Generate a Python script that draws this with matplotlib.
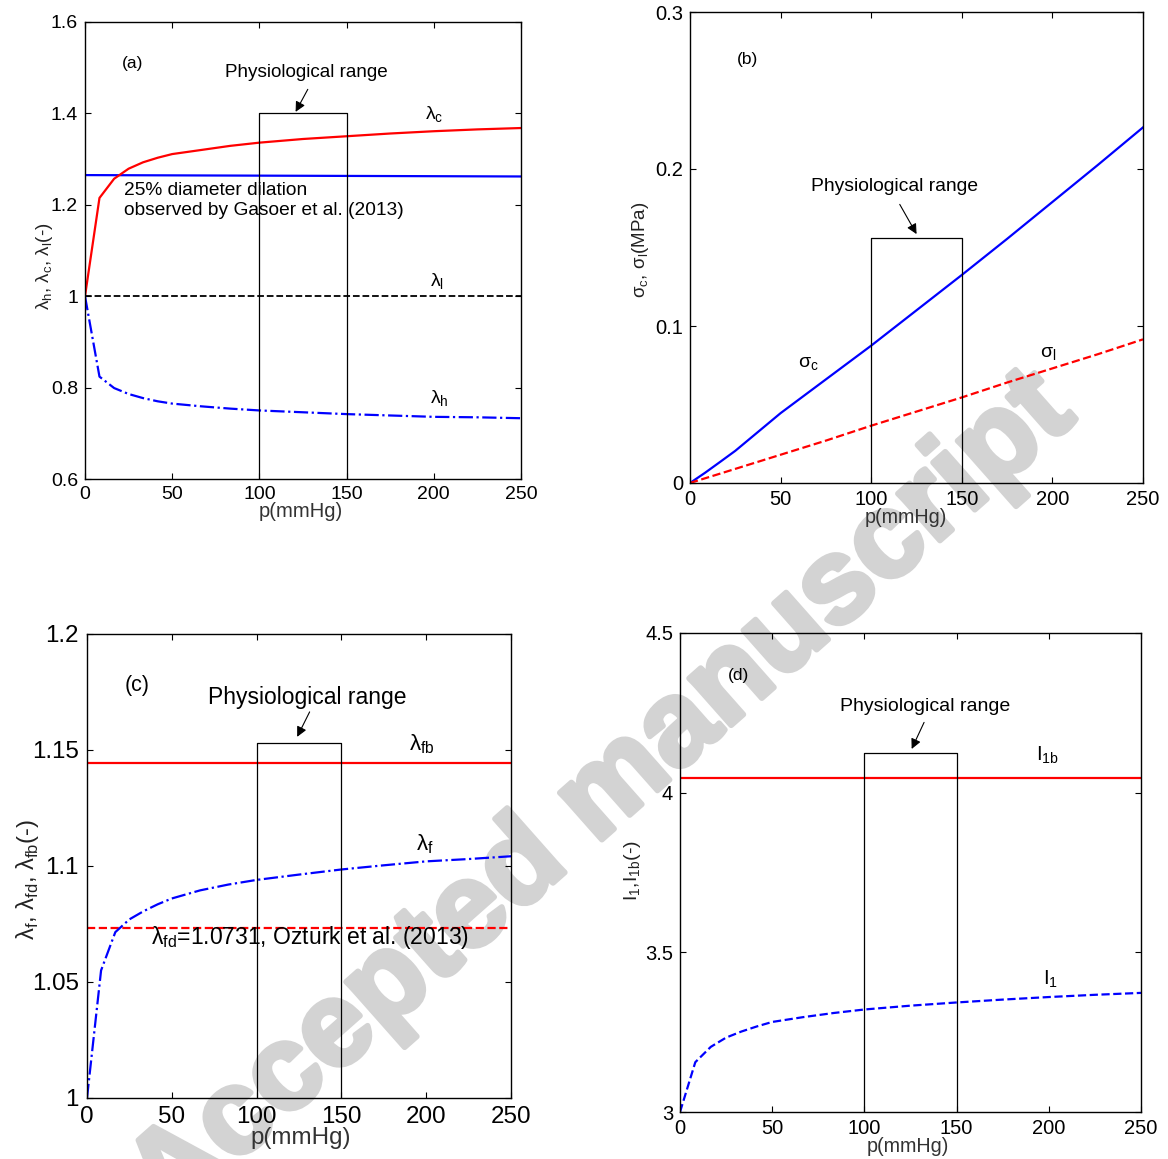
### 1. MODULE IMPORTS
import matplotlib
matplotlib.use('Agg')
from matplotlib import pyplot as plt
from matplotlib import patheffects

plt.rcParams['font.family'] = ['Liberation Sans', 'DejaVu Sans']

### 2. DATA
# pressure samples (mmHg)
p = [0, 8.3, 16.7, 25, 33.3, 41.7, 50, 66.7, 83.3, 100, 125, 150, 175, 200, 225, 250]
p_ends = [0, 250]

# (a) stretches
lam_c = [1.0, 1.215, 1.257, 1.279, 1.293, 1.303, 1.311, 1.320, 1.329, 1.336, 1.344, 1.350, 1.356, 1.361, 1.365, 1.368]
lam_h = [1.0, 0.824, 0.799, 0.786, 0.777, 0.770, 0.765, 0.759, 0.754, 0.750, 0.746, 0.742, 0.739, 0.736, 0.735, 0.733]
lam_l = 1.0
dilation = [1.265, 1.262]

# (b) stresses (MPa)
p_b = [0, 8.3, 16.7, 25, 50, 75, 100, 125, 150, 175, 200, 225, 250]
sig_c = [0, 0.0065, 0.0135, 0.0205, 0.0445, 0.066, 0.0875, 0.110, 0.1325, 0.1555, 0.179, 0.2025, 0.2265]
sig_l = [0, 0.003, 0.006, 0.009, 0.018, 0.027, 0.0365, 0.0455, 0.0545, 0.064, 0.073, 0.082, 0.0915]

# (c) fibre stretches
lam_f = [1.0, 1.055, 1.0715, 1.077, 1.0805, 1.0835, 1.086, 1.0895, 1.092, 1.094, 1.0963, 1.0985, 1.1003, 1.102, 1.103, 1.1042]
lam_fb = 1.1445
lam_fd = 1.0731

# (d) invariants
I_1 = [3.0, 3.156, 3.204, 3.233, 3.252, 3.268, 3.282, 3.297, 3.310, 3.321, 3.333, 3.343, 3.352, 3.360, 3.367, 3.373]
I_1b = 4.045

# physiological range box
phys_range = [100, 150]
box_top = {'a': 1.4, 'b': 0.156, 'c': 1.153, 'd': 4.124}

### 3. FIGURE
W, H = 1168, 1159
fig = plt.figure(figsize=(W / 100, H / 100), dpi=100)

def add_axes(x0, x1, y_top, y_bot):
    ax = fig.add_axes([x0 / W, 1 - y_bot / H, (x1 - x0) / W, (y_bot - y_top) / H])
    ax.patch.set_alpha(0)
    for s in ax.spines.values():
        s.set_linewidth(1.0)
    return ax

def style(ax, yticks, ylabels, ylim, size, ypad):
    ax.set_xlim(0, 250)
    ax.set_ylim(*ylim)
    ax.set_xticks([0, 50, 100, 150, 200, 250])
    ax.set_yticks(yticks)
    ax.set_yticklabels(ylabels)
    ax.tick_params(direction='in', length=4, width=0.8, top=True, right=True,
                   labelsize=size, pad=ypad)

def phys_box(ax, top, bottom):
    x0, x1 = phys_range
    ax.plot([x0, x0, x1, x1], [bottom, top, top, bottom], color='k', lw=0.9)

def arrow(ax, text, xy, xytext, text_xy, size):
    ax.annotate('', xy=xy, xytext=xytext,
                arrowprops=dict(arrowstyle='-|>', color='k', lw=0.8, mutation_scale=15))
    ax.text(*text_xy, text, ha='center', va='center', fontsize=size)

def axis_labels(ax, ytext, ypos, ysize, xpos, xsize):
    ax.text(*ypos, ytext, rotation=90, ha='center', va='center', fontsize=ysize,
            color='#222222', transform=ax.transAxes)
    ax.text(*xpos, 'p(mmHg)', ha='center', va='center', fontsize=xsize,
            color='#333333', transform=ax.transAxes)

# (a)
ax = add_axes(85, 521, 22, 479)
ax.plot(p_ends, dilation, color='#0000ff', lw=1.6)
ax.plot(p, lam_c, color='#ff0000', lw=1.6)
ax.plot(p_ends, [lam_l, lam_l], color='k', ls='--', lw=1.3)
ax.plot(p, lam_h, color='#0000ff', ls='-.', lw=1.6)
phys_box(ax, box_top['a'], 0.6)
style(ax, [0.6, 0.8, 1, 1.2, 1.4, 1.6], ['0.6', '0.8', '1', '1.2', '1.4', '1.6'], (0.6, 1.6), 14, 5)
arrow(ax, 'Physiological range', (120, 1.398), (128.5, 1.458), (127, 1.49), 13.6)
ax.text(21, 1.51, '(a)', ha='left', va='center', fontsize=12.5)
ax.text(195, 1.386, r'λ$_\mathregular{c}$', fontsize=14)
ax.text(198, 1.021, r'λ$_\mathregular{l}$', fontsize=14)
ax.text(198, 0.765, r'λ$_\mathregular{h}$', fontsize=14)
ax.text(22.5, 1.21, '25% diameter dilation\nobserved by Gasoer et al. (2013)',
        ha='left', va='center', fontsize=13.8, linespacing=1.2)
axis_labels(ax, r'λ$_\mathregular{h}$, λ$_\mathregular{c}$, λ$_\mathregular{l}$(-)',
            (-0.092, 0.465), 13.5, (0.495, -0.072), 14.6)

# (b)
ax = add_axes(690, 1143, 12, 483)
ax.plot(p_b, sig_c, color='#0000ff', lw=1.6)
ax.plot(p_b, sig_l, color='#ff0000', ls='--', lw=1.6)
phys_box(ax, box_top['b'], 0)
style(ax, [0, 0.1, 0.2, 0.3], ['0', '0.1', '0.2', '0.3'], (0, 0.3), 14.5, 5)
arrow(ax, 'Physiological range', (125.8, 0.157), (115, 0.179), (113, 0.189), 13.9)
ax.text(26, 0.2695, '(b)', ha='left', va='center', fontsize=12.5)
ax.text(59.5, 0.0732, r'σ$_\mathregular{c}$', fontsize=14)
ax.text(193, 0.0798, r'σ$_\mathregular{l}$', fontsize=14)
axis_labels(ax, r'σ$_\mathregular{c}$, σ$_\mathregular{l}$(MPa)',
            (-0.11, 0.495), 13.5, (0.477, -0.074), 14.2)

# (c)
ax = add_axes(87, 511, 634, 1098)
ax.plot(p_ends, [lam_fb, lam_fb], color='#ff0000', lw=1.6)
ax.plot(p_ends, [lam_fd, lam_fd], color='#ff0000', ls='--', lw=1.6)
ax.plot(p, lam_f, color='#0000ff', ls='-.', lw=1.6)
phys_box(ax, box_top['c'], 1.0)
style(ax, [1, 1.05, 1.1, 1.15, 1.2], ['1', '1.05', '1.1', '1.15', '1.2'], (1.0, 1.2), 17.4, 6)
arrow(ax, 'Physiological range', (123.2, 1.1546), (132, 1.1675), (130, 1.1727), 16.5)
ax.text(22, 1.178, '(c)', ha='left', va='center', fontsize=15.5)
ax.text(190, 1.1497, r'λ$_\mathregular{fb}$', fontsize=16)
ax.text(194, 1.1069, r'λ$_\mathregular{f}$', fontsize=16)
ax.text(37.5, 1.0662, r'λ$_\mathregular{fd}$' + f'={lam_fd}, Ozturk et al. (2013)', fontsize=16.5)
axis_labels(ax, r'λ$_\mathregular{f}$, λ$_\mathregular{fd}$, λ$_\mathregular{fb}$(-)',
            (-0.14, 0.47), 17, (0.505, -0.086), 17.4)

# (d)
ax = add_axes(680, 1141, 633, 1112)
ax.plot(p_ends, [I_1b, I_1b], color='#ff0000', lw=1.6)
ax.plot(p, I_1, color='#0000ff', ls='--', lw=1.6)
phys_box(ax, box_top['d'], 3.0)
style(ax, [3, 3.5, 4, 4.5], ['3', '3.5', '4', '4.5'], (3.0, 4.5), 14.5, 5)
arrow(ax, 'Physiological range', (125, 4.129), (133, 4.228), (133, 4.269), 14)
ax.text(26, 4.368, '(d)', ha='left', va='center', fontsize=12.5)
ax.text(193, 4.099, r'I$_\mathregular{1b}$', fontsize=14.5)
ax.text(197, 3.40, r'I$_\mathregular{1}$', fontsize=14.5)
axis_labels(ax, r'I$_\mathregular{1}$,I$_\mathregular{1b}$(-)',
            (-0.104, 0.503), 14, (0.495, -0.071), 14.2)

# watermark behind the axes
fig.text(603 / W, 1 - 798 / H, 'Accepted manuscript', rotation=41.5, ha='center', va='center',
         rotation_mode='anchor', fontsize=86, fontweight='bold', color='#d3d3d3', zorder=-1,
         path_effects=[patheffects.withStroke(linewidth=4, foreground='#d3d3d3')])

plt.savefig('out.png', dpi=100)
